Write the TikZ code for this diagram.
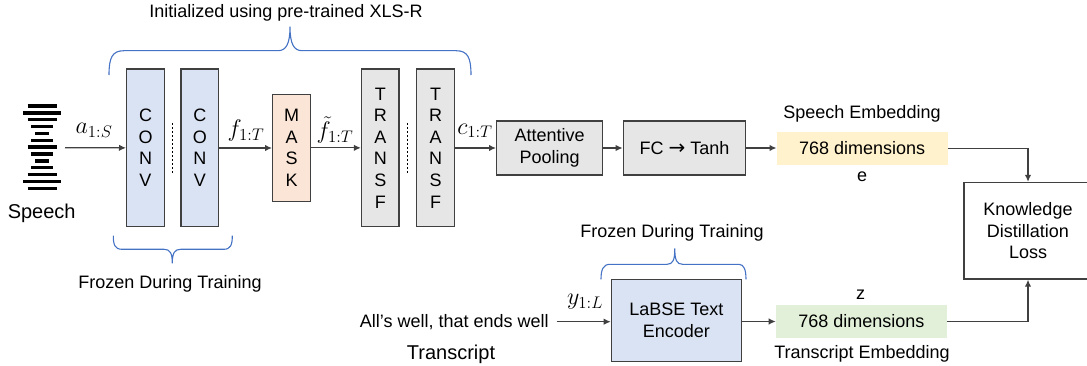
\RequirePackage{fix-cm}
\documentclass[tikz,border=0pt]{standalone}
\usepackage{fontspec}
\setmainfont{Liberation Sans}
\newfontfamily\arrowfont{DejaVu Sans}
\usetikzlibrary{arrows.meta}
\definecolor{convblue}{HTML}{DAE3F3}
\definecolor{maskpeach}{HTML}{FBE5D6}
\definecolor{transgray}{HTML}{E7E6E6}
\definecolor{embyellow}{HTML}{FFF2CC}
\definecolor{embgreen}{HTML}{E2F0D9}
\definecolor{bracecol}{HTML}{4472C4}
\definecolor{edgecol}{HTML}{404040}
\tikzset{
  every node/.style={font=\fontsize{18}{21.6}\selectfont, inner sep=0pt},
  blockbox/.style={draw=edgecol, line width=1.4pt, align=center},
  tallbox/.style={blockbox, minimum width=37.6, minimum height=157.7},
  embbox/.style={minimum width=171, minimum height=32.4},
  conn/.style={draw=edgecol, line width=1.3pt, -{Latex[length=7pt,width=6.5pt]}},
  mathlbl/.style={font=\fontsize{24}{28}\selectfont},
  bigtext/.style={font=\fontsize{20}{24}\selectfont},
  bracestyle/.style={draw=bracecol, line width=1.1pt},
  sep/.style={draw=black, line width=0.9pt, dash pattern=on 2.5pt off 1.5pt},
  bar/.style={draw=black, line width=3.4pt}
}
\begin{document}
\begin{tikzpicture}[x=1pt,y=-1pt]
\useasboundingbox (0,0) rectangle (1087,366);

% speech icon
\foreach \i/\h in {0/14.5,1/18.7,2/14.5,3/10.8,4/6.8,5/10.8,6/14.5,7/10.8,8/6.8,9/10.8,10/14.5,11/18.7,12/14.5}
  \draw[bar] ({42-\h},{106+\i*6.86}) -- ({42+\h},{106+\i*6.86});
\node[bigtext] (speech) at (41.7,213) {Speech};
\coordinate (spk) at (65,147.7);

% encoder blocks
\node[tallbox, fill=convblue] (conv1) at (145.5,147.85) {C\\O\\N\\V};
\node[tallbox, fill=convblue] (conv2) at (199.85,147.85) {C\\O\\N\\V};
\node[blockbox, fill=maskpeach, minimum width=37.6, minimum height=107.4] (mask) at (291.5,148) {M\\A\\S\\K};
\node[tallbox, fill=transgray] (tr1) at (380.35,147.85) {T\\R\\A\\N\\S\\F};
\node[tallbox, fill=transgray] (tr2) at (435.5,147.85) {T\\R\\A\\N\\S\\F};
\node[blockbox, fill=transgray, minimum width=106, minimum height=54] (pool) at (549.7,148) {Attentive\\Pooling};
\node[blockbox, fill=transgray, minimum width=122.4, minimum height=54] (fc) at (684.5,148) {FC {\arrowfont\fontsize{20}{20}\selectfont →} Tanh};
\node[embbox, fill=embyellow] (semb) at (862.2,148.5) {768 dimensions};
\node (semblbl) at (862,114) {Speech Embedding};
\node (e) at (862,177) {e};
\node[blockbox, fill=white, minimum width=128, minimum height=96.5] (kd) at (1028,230.75) {Knowledge\\Distillation\\Loss};

% separators
\draw[sep] (172.3,123) -- (172.3,173);
\draw[sep] (407.3,123) -- (407.3,173);

% connectors top
\draw[conn] (spk) -- (conv1.west);
\draw[conn] (conv2.east |- mask.west) -- (mask.west);
\draw[conn] (mask.east |- tr1.west) -- (tr1.west);
\draw[conn] (tr2.east |- pool.west) -- (pool.west);
\draw[conn] (pool.east) -- (fc.west);
\draw[conn] (fc.east) -- (fc.east -| semb.west);
\draw[conn] (semb.east) -| (kd.north);

% math labels
\node[mathlbl] (a) at (94,130.5) {$a_{1:S}$};
\node[mathlbl] (f) at (246,131) {$f_{1:T}$};
\node[mathlbl] (ft) at (335,130) {$\tilde{f}_{1:T}$};
\node[mathlbl] (c) at (475,131) {$c_{1:T}$};

% top brace
\draw[bracestyle] (109,75) .. controls (109,58) and (112,50.7) .. (124,50.7) -- (278,50.7)
  .. controls (286,50.7) and (290,44) .. (290,26.7)
  .. controls (290,44) and (294,50.7) .. (302,50.7) -- (456,50.7)
  .. controls (468,50.7) and (471,58) .. (471,75);
\node (init) at (286,13.3) {Initialized using pre-trained XLS-R};

% bottom-left brace
\draw[bracestyle] (113.3,235.7) .. controls (113.3,245) and (115,249.3) .. (122,249.3) -- (164,249.3)
  .. controls (170,249.3) and (172.3,253) .. (172.3,263.3)
  .. controls (172.3,253) and (174.6,249.3) .. (180.6,249.3) -- (223.6,249.3)
  .. controls (230.6,249.3) and (232.3,245) .. (232.3,235.7);
\node (frozen1) at (170,284.3) {Frozen During Training};

% transcript branch
\node (sent) at (454.3,321.7) {All’s well, that ends well};
\coordinate (sentr) at (556.7,321.7);
\node[bigtext] (transcript) at (451,354) {Transcript};
\node[blockbox, fill=convblue, minimum width=130, minimum height=82.4] (labse) at (676.4,320.5) {LaBSE Text\\Encoder};
\node[embbox, fill=embgreen] (temb) at (861.4,321.5) {768 dimensions};
\node (z) at (860.5,295) {z};
\node (tlbl) at (862,354) {Transcript Embedding};
\node[mathlbl] (y) at (585,302) {$y_{1:L}$};

\draw[conn] (sentr) -- (sentr -| labse.west);
\draw[conn] (labse.east |- temb.west) -- (temb.west);
\draw[conn] (temb.east) -| (kd.south);

% right brace
\draw[bracestyle] (601,279.3) .. controls (601,270) and (603,264.3) .. (610,264.3) -- (667,264.3)
  .. controls (673,264.3) and (674.8,260) .. (674.8,248.3)
  .. controls (674.8,260) and (676.6,264.3) .. (682.6,264.3) -- (739,264.3)
  .. controls (744,264.3) and (746,270) .. (746,279.3);
\node (frozen2) at (672,233.3) {Frozen During Training};
\end{tikzpicture}
\end{document}
